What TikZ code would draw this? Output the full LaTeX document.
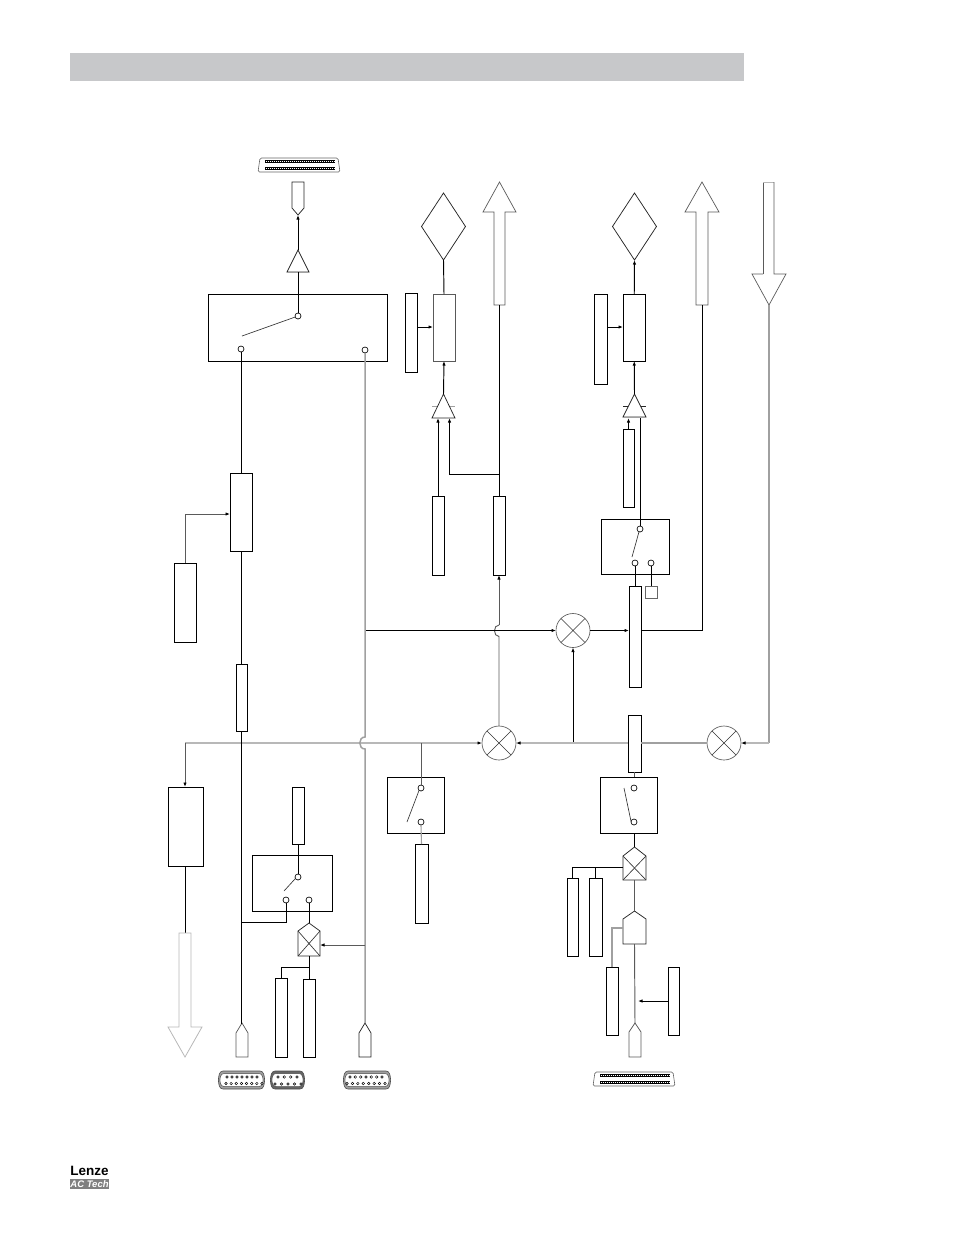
\documentclass[tikz,border=0pt]{standalone}
\usepackage{fontspec}
\setmainfont{Liberation Sans}
\usetikzlibrary{arrows.meta,shapes.geometric}
\definecolor{hdr}{HTML}{C7C8CA}
\definecolor{gm}{HTML}{A0A0A0}
\definecolor{gl}{HTML}{B8B8B8}
\definecolor{gd}{HTML}{5A5A5A}
\tikzset{
 ln/.style={draw=black,line width=.95pt},
 thinl/.style={draw=black!80,line width=.65pt},
 grayl/.style={draw=gm,line width=1.5pt},
 lightl/.style={draw=gl,line width=1.1pt},
 darkl/.style={draw=gd,line width=.95pt},
 ar/.style={-{Latex[length=4.5pt,width=3.4pt,black]}},
 blkbox/.style={draw=black,line width=1pt,fill=white,inner sep=0pt,outer sep=0pt},
 port/.style={circle,draw=black,line width=.65pt,fill=white,minimum size=6pt,inner sep=0pt,outer sep=0pt},
 sumn/.style={circle,draw=black!65,line width=.65pt,fill=white,minimum size=34pt,inner sep=0pt,outer sep=0pt},
 dia/.style={diamond,draw=black!85,line width=.75pt,fill=white,minimum width=44pt,minimum height=67pt,inner sep=0pt,outer sep=0pt},
 shp/.style={draw=black!85,line width=.75pt,fill=white,line join=miter},
 bigarrow/.style={draw=gd,line width=.7pt,fill=white},
 lightarrow/.style={draw=gl,line width=.8pt,fill=white},
}
% name, x1,y1,x2,y2
\newcommand\blk[6][]{%
 \pgfmathsetmacro\bw{#5-#3}\pgfmathsetmacro\bh{#6-#4}%
 \pgfmathsetmacro\cx{(#3+#5)/2}\pgfmathsetmacro\cy{(#4+#6)/2}%
 \node[blkbox,minimum width=\bw pt,minimum height=\bh pt,#1] (#2) at (\cx,\cy) {};}
% sum node with a cross
\newcommand\sumnode[3]{%
 \node[sumn] (#1) at (#2,#3) {};
 \draw[thinl] (#1.45)--(#1.225) (#1.135)--(#1.315);}
% pentagon pointing up: name, x1, x2, apex y, shoulder y, bottom y
\newcommand\penta[7][shp]{%
 \pgfmathsetmacro\cx{(#3+#4)/2}%
 \draw[#1] (#3,#7)--(#3,#6)--(\cx,#5)--(#4,#6)--(#4,#7)--cycle;
 \coordinate (#2t) at (\cx,#5);\coordinate (#2b) at (\cx,#7);}
% triangle: name, cx, apex y, base y, halfwidth
\newcommand\tri[5]{%
 \draw[shp] (#2,#3)--(#2+#5,#4)--(#2-#5,#4)--cycle;
 \coordinate (#1a) at (#2,#3);\coordinate (#1b) at (#2,#4);}
% D-sub connector
\newcommand\dsub[5]{%
 \draw[draw=black!70,line width=.6pt,fill=#5,rounded corners=3pt] (#1+2,#3)--(#2-2,#3)--(#2,#3+9)--(#2-2,#4)--(#1+2,#4)--(#1,#3+9)--cycle;
 \draw[draw=black!70,line width=.5pt,fill=white,rounded corners=2.5pt] (#1+3.5,#3+2.5)--(#2-3.5,#3+2.5)--(#2-1.5,#3+9)--(#2-3.5,#4-2.5)--(#1+3.5,#4-2.5)--(#1+1.5,#3+9)--cycle;}
\newcommand\pins[4]{\foreach \i in {1,...,#4}{\pgfmathsetmacro\px{#1+(#2-#1)*(\i-1)/(#4-1)}\fill[white,draw=black,line width=.45pt] (\px,#3) circle (1.3);}}
% 50-way connector
\newcommand\wide[5]{%
 \draw[draw=black!60,line width=.6pt,fill=white,rounded corners=1.5pt] (#1+2,#3)--(#2-2,#3)--(#2,#4)--(#1,#4)--cycle;
 \foreach \yy in {#5}{
  \fill[black] (#1+7,\yy-1.5) rectangle (#2-5.5,\yy+1.5);
  \draw[white,line width=1pt,dash pattern=on 1pt off 1pt] (#1+7.5,\yy)--(#2-6,\yy);}}
\begin{document}
\begin{tikzpicture}[x=1pt,y=-1pt]
\useasboundingbox (0,0) rectangle (954,1235);
% header band and logo
\node[fill=hdr,inner sep=0pt,minimum width=674pt,minimum height=28pt] (band) at (407,67) {};
\node[inner sep=0pt,font=\bfseries\fontsize{13.5}{13.5}\selectfont] (lenze) at (89.5,1171) {Lenze};
\node[fill=black!50,inner sep=0pt,minimum width=39pt,minimum height=10.5pt,text=white,font=\bfseries\itshape\fontsize{9.5}{9.5}\selectfont] (actech) at (89.5,1184) {AC Tech};

% ---------- output switch, top left ----------
\wide{258}{340}{158}{172}{161.5,168.5}
\penta{pa}{292}{304}{215}{208}{182}
\tri{ta}{298}{250}{272}{11}
\draw[grayl,line width=1pt] (287,272)--(309,272);
\blk{sw0}{208}{294}{387}{361}
\node[port] (p0) at (298,316) {};
\node[port] (p1) at (241,349) {};
\node[port] (p2) at (365,350) {};
\coordinate (arm0) at (242,336);
\draw[thinl] (arm0)--(p0.200);
\draw[ln,ar] (taa)--(pat);
\draw[ln] (tab)--(p0.north);

% ---------- first output column ----------
\node[dia] (d1) at (443.5,226.5) {};
\blk[draw=black!65]{b1}{433}{294}{455}{361}
\blk{s1}{405}{293}{417}{372}
\coordinate (b1w) at (433,327);\coordinate (s1e) at (417,327);
\draw[ln,ar] (s1e)--(b1w);
\draw[ln] (b1.north)--(d1.south);
\draw[shp,draw=gm,line width=1pt] (432,406)--(438,406) (449,406)--(455,406);
\tri{tb}{443.5}{394}{418}{11.5}
\draw[ln,ar] (tba)--(b1.south);
\blk{c1}{432}{496}{444}{575}
\blk{c2}{493}{496}{505}{575}
\coordinate (tbi1) at (438,418);\coordinate (tbi2) at (449.5,418);
\coordinate (j1) at (449.5,474);\coordinate (j2) at (499,474);
\draw[ln,ar] (c1.north)--(tbi1);
\draw[ln,ar] (j2)--(j1)--(tbi2);
% large arrow 1
\draw[bigarrow] (499.5,182)--(516,212)--(505,212)--(505,305)--(494,305)--(494,212)--(483,212)--cycle;
\coordinate (u1) at (499,305);
\draw[ln] (u1)--(c2.north);

% ---------- second output column ----------
\node[dia] (d2) at (634.5,226.5) {};
\blk{b2}{623}{294}{645.5}{361}
\blk{s2}{594}{294}{607}{384}
\coordinate (b2w) at (623,327);\coordinate (s2e) at (607,327);
\draw[ln,ar] (s2e)--(b2w);
\draw[ln,ar] (b2.north)--(d2.south);
\draw[shp] (623,406)--(628,406) (640,406)--(646,406);
\tri{tc}{634.5}{394}{417}{11.5}
\draw[grayl,line width=1pt] (623,417)--(646,417);
\draw[ln,ar] (tca)--(b2.south);
\blk{c3}{623}{429}{634}{507}
\coordinate (tci1) at (628.5,418);\coordinate (tci2) at (640,418);
\draw[ln,ar] (c3.north)--(tci1);
\blk{sw1}{601}{519}{669}{574}
\node[port] (p3) at (640,529) {};
\node[port] (p4) at (635,563) {};
\node[port] (p5) at (651,563) {};
\coordinate (arm1) at (632,557);
\draw[thinl] (arm1)--(p3.250);
\draw[ln] (tci2)--(p3.north);
\blk{c4}{629}{586}{641}{687}
\blk[draw=black!60]{sq}{645}{586}{657}{598}
\coordinate (c4t) at (635,586);\coordinate (sqt) at (651,586);
\draw[ln] (p4.south)--(c4t);
\draw[ln] (p5.south)--(sqt);
% large arrow 2
\draw[bigarrow] (702,182)--(719,212)--(708,212)--(708,305)--(696,305)--(696,212)--(685,212)--cycle;
\coordinate (u2) at (702,305);\coordinate (u2c) at (702,630);\coordinate (c4e) at (641,630);
\draw[ln] (u2)--(u2c)--(c4e);
% large arrow 3
\draw[bigarrow] (763,274)--(763,182);
\draw[lightarrow,fill=none] (763,182)--(774,182);
\draw[bigarrow,fill=none] (774,182)--(774,274)--(786,274)--(769,305)--(752,274)--(763,274);
\coordinate (u3) at (769,305);

% ---------- summing points ----------
\sumnode{sa}{573}{630.5}
\sumnode{sb}{499}{743}
\sumnode{sc}{724}{743}
\coordinate (hb) at (499,636.5);\coordinate (ha) at (499,625);
\draw[darkl,ar] (ha)--(c2.south);
\draw[darkl] (sb.north)--(hb) .. controls (493,636.5) and (493,625) .. (ha);
\coordinate (tapr) at (365,630.5);
\draw[ln,ar] (tapr)--(sa.west);
\coordinate (c4w) at (629,630.5);
\draw[ln,ar] (sa.east)--(c4w);
\coordinate (t1) at (573,743);
\draw[ln,ar] (t1)--(sa.south);

% ---------- main horizontal reference bus ----------
\blk{c5}{628}{715}{641}{772}
\coordinate (c5w) at (628,743);\coordinate (c5e) at (641,743);
\draw[lightl,ar] (c5w)--(sb.east);
\draw[grayl] (c5e)--(sc.west);
\coordinate (cor) at (769,743);
\draw[grayl] (u3)--(cor);
\draw[lightl,ar] (cor)--(sc.east);
\blk{e1}{168}{787}{203}{866}
\coordinate (cl) at (185,743);\coordinate (e1t) at (185,787);
\draw[lightl,ar] (cl)--(sb.west);
\draw[darkl,ar] (cl)--(e1t);
\coordinate (e1b) at (185,866);\coordinate (da) at (185,933);
\draw[ln] (e1b)--(da);
% large light arrow bottom left
\draw[lightarrow] (179,933)--(191,933)--(191,1027)--(202,1027)--(185,1057)--(168,1027)--(179,1027)--cycle;

% ---------- left column ----------
\blk{f1}{230}{473}{252}{551}
\blk{f2}{174}{563}{196}{642}
\blk{f3}{236}{664}{247}{731}
\coordinate (f1w) at (230,514);\coordinate (kn) at (185,514);
\draw[darkl,ar] (f2.north)--(kn)--(f1w);
\penta[shp,draw=gd]{pb}{236}{248}{1023}{1033}{1057}
\penta{pc}{359}{371}{1023}{1033}{1057}
\coordinate (x241t) at (241,473);\coordinate (x241f) at (241,664);\coordinate (x241b) at (241,731);\coordinate (x241e) at (241,1023.5);
\draw[ln] (p1.south)--(x241t);
\draw[ln] (f1.south)--(x241f);
\draw[ln] (x241b)--(x241e);
\coordinate (br) at (241,922);\coordinate (brc) at (286,922);

% vertical gray line with hop
\coordinate (v1) at (365,737);\coordinate (v2) at (365,749);
\draw[grayl] (p2.south)--(v1) .. controls (358,737) and (358,749) .. (v2)--(pct);

% switch with input selection
\blk{e2}{292}{787}{304}{844}
\blk{sw2}{252}{855}{332}{911}
\node[port] (p6) at (286,900) {};
\node[port] (p7) at (309,900) {};
\node[port] (p8) at (298,877) {};
\coordinate (arm2) at (284,891);
\draw[thinl] (arm2)--(p8.210);
\draw[ln] (e2.south)--(p8.north);
\draw[ln] (br)--(brc)--(p6.south);
% mux
\draw[shp] (298,956)--(298,931)--(309,923)--(320,931)--(320,956)--cycle;
\coordinate (mt) at (309,923);\coordinate (mb) at (309,956);\coordinate (me) at (320,945);\coordinate (tm) at (365,945);
\draw[thinl] (298,931)--(320,956) (320,931)--(298,956);
\draw[ln] (p7.south)--(mt);
\draw[darkl,ar] (tm)--(me);
\blk{g1}{275}{978}{287}{1057}
\blk{g2}{303}{979}{315}{1057}
\coordinate (mj) at (309,967);\coordinate (mk) at (281,967);
\draw[ln] (mb)--(g2.north);
\draw[ln] (mj)--(mk)--(g1.north);

% second switch, middle
\blk{sw3}{387}{777}{444}{833}
\node[port] (p9) at (421,788) {};
\node[port] (p10) at (421,822) {};
\coordinate (arm3) at (407,822);
\draw[thinl] (arm3)--(p9.230);
\coordinate (t2) at (421,743);
\draw[darkl] (t2)--(p9.north);
\blk{h1}{415}{844}{428}{923}
\draw[grayl,line width=1.1pt] (p10.south)--(h1.north);

% ---------- right lower column ----------
\blk{sw4}{600}{777}{657}{833}
\node[port] (p11) at (634,788) {};
\node[port] (p12) at (634,822) {};
\coordinate (arm4) at (624,788);
\draw[thinl] (arm4)--(p12.170);
\coordinate (c5b) at (634,772);\coordinate (sw4t) at (634,777);
\draw[darkl] (c5b)--(sw4t);
\draw[shp] (623,880)--(623,856)--(634.5,847)--(646,856)--(646,880)--cycle;
\draw[thinl] (623,856)--(646,880) (646,856)--(623,880);
\coordinate (m2t) at (634.5,847);\coordinate (m2b) at (634.5,880);\coordinate (m2w) at (623,867);
\coordinate (sw4b) at (634.5,833);
\draw[ln] (sw4b)--(m2t);
\blk{g3}{567}{878}{578}{956}
\blk{g4}{589}{878}{602}{956}
\coordinate (mm) at (572.5,867);\coordinate (mn) at (595.5,867);
\draw[ln] (m2w)--(mm)--(g3.north);
\draw[ln] (mn)--(g4.north);
\penta{pd}{623}{646}{911}{919}{944}
\draw[darkl] (m2b)--(pdt);
\blk{g5}{606}{967}{618}{1035}
\blk{g6}{668}{967}{679}{1035}
\coordinate (pdw) at (623,928);\coordinate (pdk) at (612,928);
\draw[grayl,line width=1.1pt] (pdw)--(pdk)--(g5.north);
\penta[shp,draw=gd]{pe}{629}{641}{1023}{1032}{1057}
\draw[darkl] (pdb)--(pet);
\coordinate (g6w) at (668,1001);\coordinate (hit) at (638,1001);
\draw[ln,ar] (g6w)--(hit);

% ---------- connectors, bottom ----------
\dsub{218}{265}{1071}{1089}{gm}
\pins{227}{257}{1077}{7}\pins{226}{262}{1083.5}{8}
\dsub{270}{305}{1071}{1089}{black!60}
\pins{278}{297}{1077}{4}\pins{275}{301}{1084}{5}
\dsub{343}{391}{1071}{1089}{gm}
\pins{350}{382}{1077}{7}\pins{347}{385}{1083.5}{8}
\wide{593}{675}{1072}{1086}{1075.5,1082.5}
\end{tikzpicture}
\end{document}
